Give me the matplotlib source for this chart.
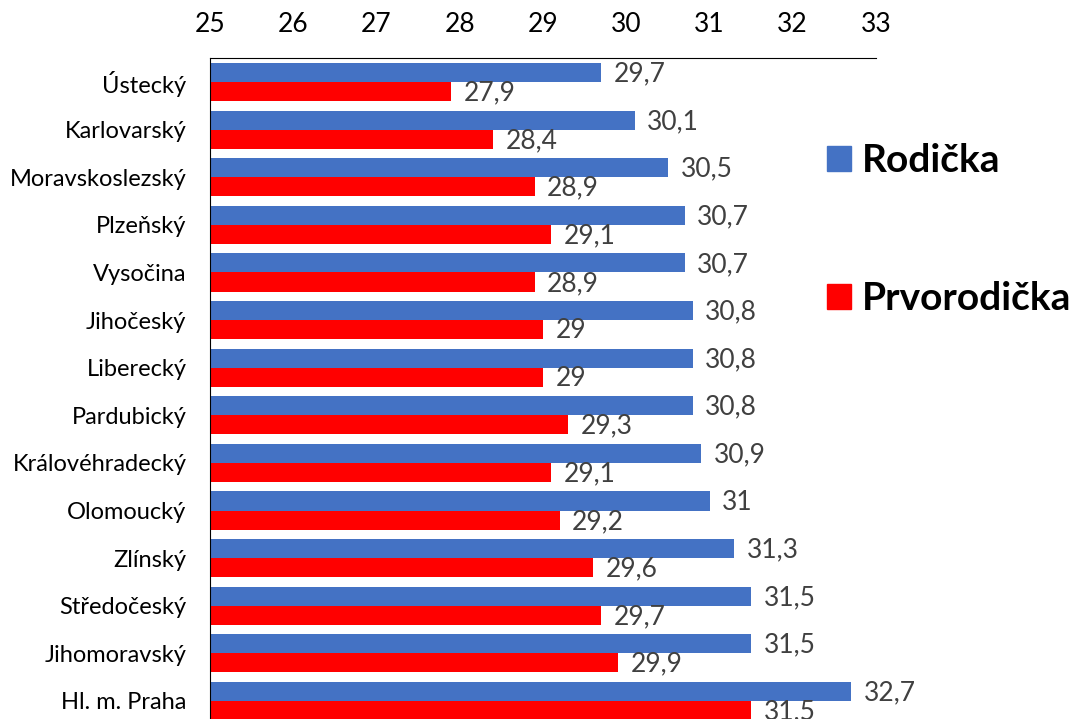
import matplotlib
matplotlib.use("Agg")
import matplotlib.pyplot as plt
from matplotlib.patches import Patch
import numpy as np

plt.rcParams['font.family'] = ['Lato', 'DejaVu Sans']

categories = ["Ústecký", "Karlovarský", "Moravskoslezský", "Plzeňský", "Vysočina",
              "Jihočeský", "Liberecký", "Pardubický", "Královéhradecký", "Olomoucký",
              "Zlínský", "Středočeský", "Jihomoravský", "Hl. m. Praha"]
rodicka = [29.7, 30.1, 30.5, 30.7, 30.7, 30.8, 30.8, 30.8, 30.9, 31.0, 31.3, 31.5, 31.5, 32.7]
prvorodicka = [27.9, 28.4, 28.9, 29.1, 28.9, 29.0, 29.0, 29.3, 29.1, 29.2, 29.6, 29.7, 29.9, 31.5]
series_names = ["Rodička", "Prvorodička"]
colors = ["#4472C4", "#FF0000"]
xticks = [25, 26, 27, 28, 29, 30, 31, 32, 33]

W, H = 1071, 719
fig = plt.figure(figsize=(W / 100, H / 100), dpi=100)
ax = fig.add_axes([210 / W, 0, (876 - 210) / W, (H - 58) / H])

y = np.arange(len(categories))
bh = 0.4
base = 25
ax.barh(y - bh / 2, np.array(rodicka) - base, left=base, height=bh, color=colors[0], label=series_names[0])
ax.barh(y + bh / 2, np.array(prvorodicka) - base, left=base, height=bh, color=colors[1], label=series_names[1])

def fmt(v):
    return f"{v:g}".replace(".", ",")

for vals, off in ((rodicka, -bh / 2), (prvorodicka, bh / 2)):
    for i, v in enumerate(vals):
        ax.annotate(fmt(v), (v, i + off), xytext=(9, -1), textcoords="offset points",
                    va="center", ha="left", fontsize=19, color="#404040",
                    annotation_clip=False)

ax.set_xlim(25, 33)
ax.set_ylim(13 + 18 / 47.6, -24 / 47.6)
ax.set_xticks(xticks)
ax.set_xticklabels([str(t) for t in xticks])
ax.xaxis.tick_top()
ax.tick_params(axis="x", length=0, pad=15, labelsize=19, colors="black")
ax.set_yticks(y)
ax.set_yticklabels(categories)
ax.tick_params(axis="y", length=0, pad=17, labelsize=17)
ax.spines["right"].set_visible(False)
ax.spines["bottom"].set_visible(False)
ax.spines["top"].set_color("black")
ax.spines["left"].set_color("black")

handles = [Patch(color=colors[0]), Patch(color=colors[1])]
fig.legend(handles, series_names, loc="upper left", bbox_to_anchor=(827 / W, 1 - 143 / H),
           frameon=False, handlelength=0.62, handleheight=0.62, handletextpad=0.28,
           borderpad=0, borderaxespad=0, labelspacing=2.65,
           prop={"size": 28, "weight": "bold"})

fig.savefig("out.png", dpi=100)
